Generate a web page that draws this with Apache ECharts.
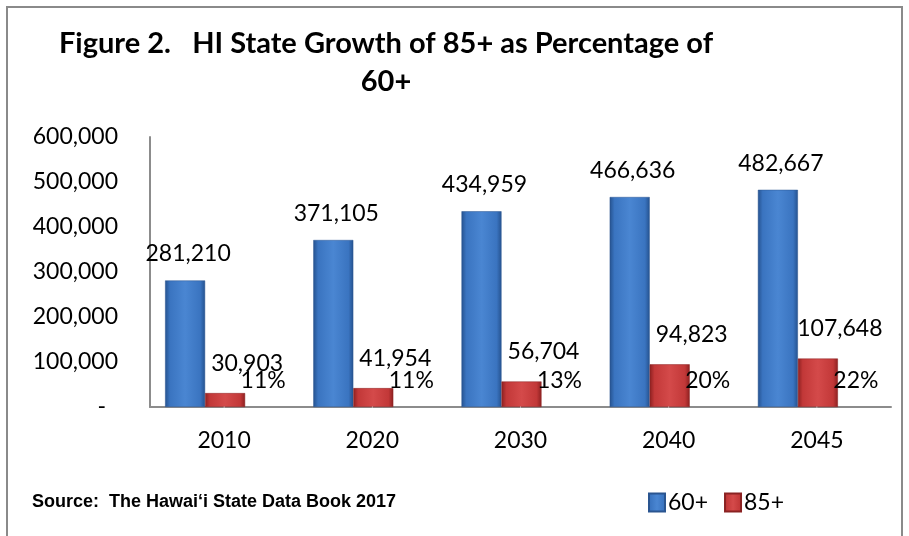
<!DOCTYPE html>
<html>
<head>
<meta charset="utf-8">
<script src="https://cdn.jsdelivr.net/npm/echarts@6/dist/echarts.min.js"></script>
<style>
  html, body { margin: 0; padding: 0; background: #fff; }
  #chart { width: 909px; height: 536px; }
</style>
</head>
<body>
<div id="chart"></div>
<script>
// Hawaii population aged 60+ and 85+, with the 85+ share of 60+
const years = ['2010', '2020', '2030', '2040', '2045'];
const pop60 = [281210, 371105, 434959, 466636, 482667];
const pop85 = [30903, 41954, 56704, 94823, 107648];
const share85 = [11, 11, 13, 20, 22];      // percent of 60+
const yTicks = { min: 0, max: 600000, step: 100000 };

const FONT = 'Lato, "Noto Sans", sans-serif';

function shade(edge, mid, light) {
  return {
    type: 'linear', x: 0, y: 0, x2: 1, y2: 0,
    colorStops: [
      { offset: 0, color: edge },
      { offset: 0.12, color: mid },
      { offset: 0.5, color: light },
      { offset: 0.88, color: mid },
      { offset: 1, color: edge }
    ]
  };
}
const blueFill = shade('#25528f', '#3a74c0', '#4a86d2');
const redFill = shade('#8c2020', '#c23838', '#d44a4a');

function thousands(v) {
  return String(v).replace(/\B(?=(\d{3})+(?!\d))/g, ',');
}

const chart = echarts.init(document.getElementById('chart'), null, { renderer: 'canvas' });

const plotTop = 137, plotBottom = 129;

chart.setOption({
  animation: false,
  backgroundColor: '#ffffff',
  textStyle: { fontFamily: FONT },
  graphic: [
    {
      type: 'rect', silent: true, z: -1,
      shape: { x: 7, y: 7, width: 895, height: 560 },
      style: { fill: 'none', stroke: '#8a8a8a', lineWidth: 2 }
    },
    {
      type: 'text', silent: true,
      style: {
        x: 386, y: 25, textAlign: 'center', textVerticalAlign: 'top',
        text: 'Figure 2.   HI State Growth of 85+ as Percentage of\n60+',
        font: 'bold 29px ' + FONT, lineHeight: 38, fill: '#000'
      }
    },
    {
      type: 'text', silent: true,
      style: {
        x: 32, y: 502, textVerticalAlign: 'middle',
        text: 'Source:  The Hawai\u2018i State Data Book 2017',
        font: 'bold 18px "Liberation Sans", Arial, sans-serif', fill: '#000'
      }
    }
  ],
  legend: {
    left: 643, top: 486,
    itemWidth: 16, itemHeight: 18, itemGap: 16,
    icon: 'rect',
    textStyle: { fontSize: 23, fontFamily: FONT, color: '#000', padding: [0, 0, 0, -2] },
    data: ['60+', '85+'],
    selectedMode: false
  },
  grid: [
    { left: 131, right: 37, top: plotTop, bottom: plotBottom },
    { left: 150, right: 18, top: plotTop, bottom: plotBottom }
  ],
  xAxis: [
    { gridIndex: 0, type: 'category', data: years, show: false },
    {
      gridIndex: 1, type: 'category', data: years,
      axisLine: { lineStyle: { color: '#8c8c8c', width: 2 } },
      axisTick: { show: false },
      axisLabel: { fontSize: 23, color: '#000', margin: 22, fontFamily: FONT }
    }
  ],
  yAxis: [
    { gridIndex: 0, type: 'value', min: yTicks.min, max: yTicks.max, interval: yTicks.step, show: false },
    {
      gridIndex: 1, type: 'value', min: yTicks.min, max: yTicks.max, interval: yTicks.step,
      axisLine: { show: true, lineStyle: { color: '#8c8c8c', width: 2 } },
      axisTick: { show: false },
      splitLine: { show: false },
      axisLabel: {
        fontSize: 23, color: '#000', margin: 32, fontFamily: FONT,
        formatter: v => v === 0 ? '{z|-}' : thousands(v),
        rich: { z: { fontSize: 23, fontFamily: FONT, padding: [0, 12, 0, 0] } }
      }
    }
  ],
  series: [
    {
      name: '60+', type: 'bar', xAxisIndex: 0, yAxisIndex: 0,
      data: pop60, barWidth: 40, barGap: '0%',
      itemStyle: { color: blueFill, borderColor: '#2a5590', borderWidth: 0.5 },
      label: {
        show: true, position: 'top', distance: 15, offset: [3, 0],
        fontSize: 23, color: '#000', fontFamily: FONT,
        formatter: p => thousands(p.value)
      },
      silent: true
    },
    {
      name: '85+', type: 'bar', xAxisIndex: 0, yAxisIndex: 0,
      data: pop85, barWidth: 40, barGap: '0%',
      itemStyle: { color: redFill, borderColor: '#8a2222', borderWidth: 0.5 },
      label: {
        show: true, position: 'top', distance: 18, offset: [22, 0],
        fontSize: 23, color: '#000', fontFamily: FONT,
        formatter: p => thousands(p.value)
      },
      silent: true
    },
    {
      name: 'share', type: 'scatter', xAxisIndex: 1, yAxisIndex: 1,
      data: share85, symbolSize: 1,
      itemStyle: { color: '#ffffff', opacity: 1 },
      label: {
        show: true, position: 'top', distance: 14, offset: [39, 0],
        fontSize: 23, color: '#000', fontFamily: FONT, textBorderWidth: 0,
        formatter: p => p.value + '%'
      },
      silent: true, z: 5
    }
  ]
});
</script>
</body>
</html>
